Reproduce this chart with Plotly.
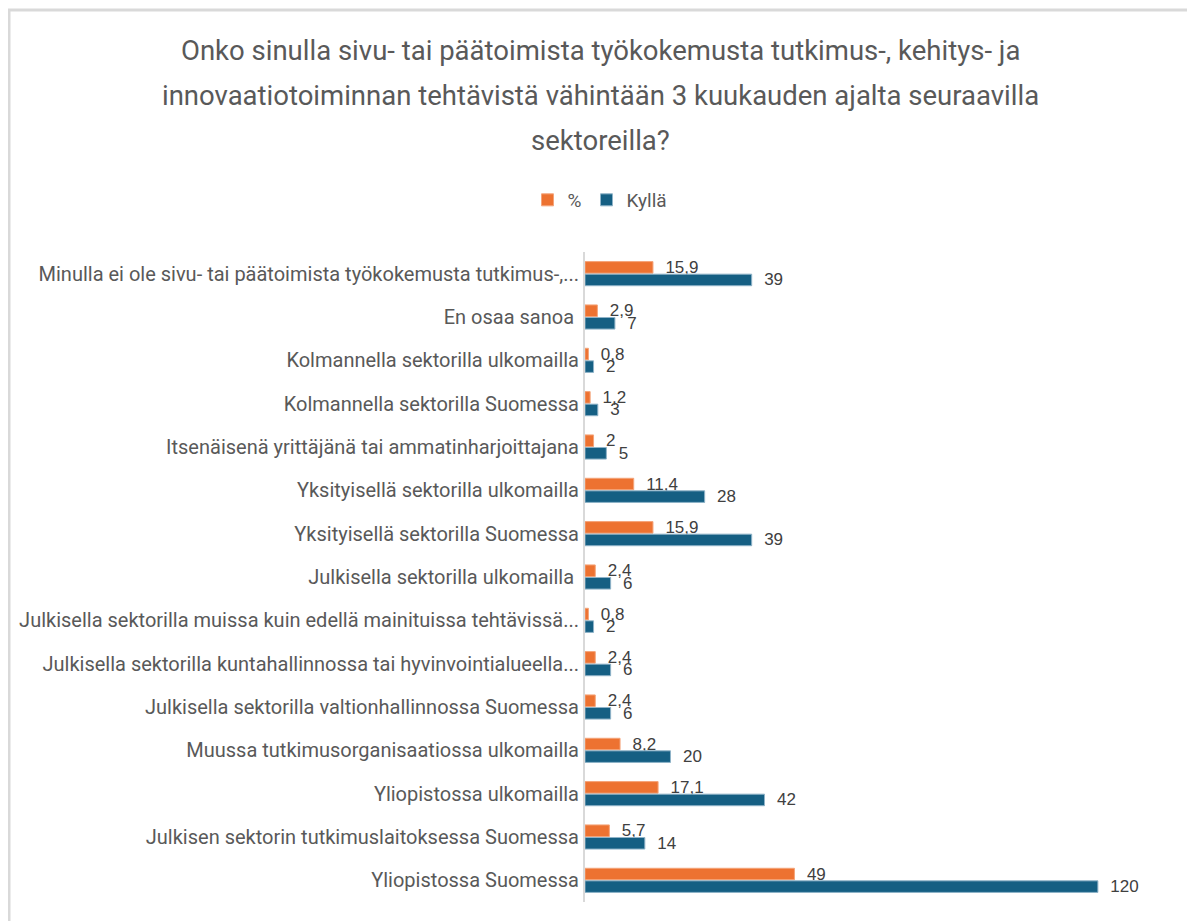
import plotly.graph_objects as go

# categories from top to bottom as shown in the chart
categories = [
    "Minulla ei ole sivu- tai päätoimista työkokemusta tutkimus-,...",
    "En osaa sanoa ",
    "Kolmannella sektorilla ulkomailla",
    "Kolmannella sektorilla Suomessa",
    "Itsenäisenä yrittäjänä tai ammatinharjoittajana",
    "Yksityisellä sektorilla ulkomailla",
    "Yksityisellä sektorilla Suomessa",
    "Julkisella sektorilla ulkomailla ",
    "Julkisella sektorilla muissa kuin edellä mainituissa tehtävissä...",
    "Julkisella sektorilla kuntahallinnossa tai hyvinvointialueella...",
    "Julkisella sektorilla valtionhallinnossa Suomessa",
    "Muussa tutkimusorganisaatiossa ulkomailla",
    "Yliopistossa ulkomailla",
    "Julkisen sektorin tutkimuslaitoksessa Suomessa",
    "Yliopistossa Suomessa",
]
pct = [15.9, 2.9, 0.8, 1.2, 2, 11.4, 15.9, 2.4, 0.8, 2.4, 2.4, 8.2, 17.1, 5.7, 49]
kylla = [39, 7, 2, 3, 5, 28, 39, 6, 2, 6, 6, 20, 42, 14, 120]

title_lines = [
    "Onko sinulla sivu- tai päätoimista työkokemusta tutkimus-, kehitys- ja",
    "innovaatiotoiminnan tehtävistä vähintään 3 kuukauden ajalta seuraavilla",
    "sektoreilla?",
]

# the page body has an 8px margin, so the figure is drawn 8px smaller
OFF = 8
W, H = 1195 - OFF, 921 - OFF
ML, MR, MT, MB = 585 - OFF, 33, 252 - OFF, 19
pw, ph = W - ML - MR, H - MT - MB
FONT = "Roboto, sans-serif"


def fmt(v):
    return "\u00a0\u00a0" + f"{v:g}".replace(".", ",")


def px(x):
    # page x pixel -> paper coordinate
    return (x - OFF - ML) / pw


def py(y):
    # page y pixel -> paper coordinate
    return (H - MB - (y - OFF)) / ph


fig = go.Figure()
fig.add_trace(go.Bar(
    y=categories, x=pct, orientation="h", name="%",
    marker=dict(color="#ED7231", line=dict(color="#F4A47A", width=1)),
    text=[fmt(v) for v in pct], textposition="outside", constraintext="none",
    textfont=dict(family="Liberation Sans, Arial", size=17, color="#404040"),
    cliponaxis=False,
))
fig.add_trace(go.Bar(
    y=categories, x=kylla, orientation="h", name="Kyllä",
    marker=dict(color="#155F83", line=dict(color="#8FB3C8", width=1)),
    text=[fmt(v) for v in kylla], textposition="outside", constraintext="none",
    textfont=dict(family="Liberation Sans, Arial", size=17, color="#404040"),
    cliponaxis=False,
))

for i, line in enumerate(title_lines):
    fig.add_annotation(
        text=line, xref="paper", yref="paper",
        x=px(600), y=py(50 + i * 45),
        xanchor="center", yanchor="middle", showarrow=False,
        font=dict(family=FONT, size=27.5, color="#595959"),
    )

# chart frame (top and left edges visible in the reference)
fig.add_shape(type="line", xref="paper", yref="paper",
              x0=px(8), x1=px(1195), y0=py(10), y1=py(10),
              line=dict(color="#D9D9D9", width=3))
fig.add_shape(type="line", xref="paper", yref="paper",
              x0=px(9), x1=px(9), y0=py(10), y1=py(921),
              line=dict(color="#D9D9D9", width=3))

fig.update_layout(
    width=W, height=H,
    margin=dict(l=ML, r=MR, t=MT, b=MB, autoexpand=False),
    barmode="group", bargap=0.42, bargroupgap=0.08,
    plot_bgcolor="white", paper_bgcolor="white",
    showlegend=True,
    legend=dict(orientation="h", xref="container", yref="container",
                x=(600 - OFF) / W, xanchor="center",
                y=1 - (200 - OFF) / H, yanchor="middle",
                font=dict(family=FONT, size=19, color="#595959"),
                itemwidth=30, traceorder="normal"),
    font=dict(family=FONT, color="#595959"),
)
fig.update_xaxes(range=[0, 135], visible=False, showgrid=False, zeroline=False,
                 automargin=False)
fig.update_yaxes(autorange="reversed", showline=True, linecolor="#D9D9D9",
                 linewidth=2, ticks="", showgrid=False, automargin=False,
                 tickfont=dict(family=FONT, size=20, color="#595959"))

fig.write_html("out.html")
